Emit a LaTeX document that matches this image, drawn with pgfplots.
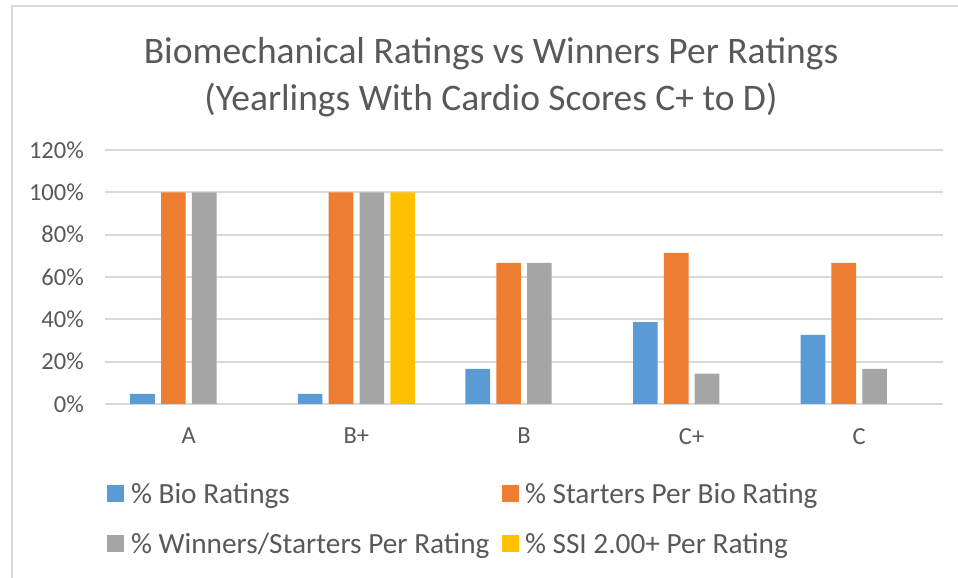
\documentclass[border=0pt]{standalone}
\usepackage{pgfplots}
\pgfplotsset{compat=1.18}
\usepackage{fontspec}
\setmainfont{Carlito}
\definecolor{cblue}{HTML}{5B9BD5}
\definecolor{corange}{HTML}{ED7D31}
\definecolor{cgray}{HTML}{A5A5A5}
\definecolor{cyellow}{HTML}{FFC000}
\definecolor{ctext}{HTML}{595959}
\definecolor{cgrid}{HTML}{D9D9D9}
\begin{document}
\begin{tikzpicture}
\useasboundingbox (0,0) rectangle (958bp,578bp);
\fill[white] (0,0) rectangle (958bp,578bp);
\draw[cgrid, line width=2bp] (11.5bp,0) -- (11.5bp,572bp) -- (958bp,572bp);
\node[anchor=base, font=\fontsize{37.5bp}{48bp}\selectfont, text=ctext, inner sep=0pt] at (491bp,514bp) {Biomechanical Ratings vs Winners Per Ratings};
\node[anchor=base, font=\fontsize{37.5bp}{48bp}\selectfont, text=ctext, inner sep=0pt] at (491bp,467bp) {(Yearlings With Cardio Scores C+ to D)};
\begin{axis}[
  at={(105bp,174bp)}, anchor=south west,
  scale only axis, width=838bp, height=254bp,
  xmin=-0.5, xmax=4.5, ymin=0, ymax=120,
  axis line style={draw=none},
  ymajorgrids, grid style={cgrid, line width=1.8bp},
  major tick length=0pt,
  xtick={0,1,2,3,4}, xticklabels={A,B+,B,C+,C},
  ytick={0,20,40,60,80,100,120},
  yticklabels={0\%,20\%,40\%,60\%,80\%,100\%,120\%},
  tick label style={font=\fontsize{24.5bp}{28bp}\selectfont, text=ctext, inner sep=0pt},
  yticklabel style={anchor=east, xshift=-21bp},
  xticklabel style={anchor=north, yshift=-24bp},
  legend columns=2,
  legend style={at={(axis description cs:0.0024,-0.311)}, anchor=north west,
    draw=none, fill=none, inner sep=0pt, outer sep=0pt, column sep=0pt, row sep=28bp,
    font=\fontsize{29.3bp}{34bp}\selectfont, text=ctext,
    nodes={inner sep=0pt, outer sep=0pt}, cells={anchor=west}},
  legend image code/.code={\fill[#1] (0bp,-8.5bp) rectangle (17bp,8.5bp);},
]
\addplot[ybar, bar width=0.147, bar shift=-0.276, fill=cblue, draw=none]
  coordinates {(0,4.8) (1,4.8) (2,16.6) (3,38.7) (4,32.6)};
\addlegendentry{\hspace*{7bp}\makebox[371bp][l]{\% Bio Ratings}}
\addplot[ybar, bar width=0.147, bar shift=-0.092, fill=corange, draw=none]
  coordinates {(0,100) (1,100) (2,66.7) (3,71.4) (4,66.7)};
\addlegendentry{\hspace*{6bp}\% Starters Per Bio Rating}
\addplot[ybar, bar width=0.147, bar shift=0.092, fill=cgray, draw=none]
  coordinates {(0,100) (1,100) (2,66.7) (3,14.3) (4,16.6)};
\addlegendentry{\hspace*{7bp}\makebox[371bp][l]{\% Winners/Starters Per Rating}}
\addplot[ybar, bar width=0.147, bar shift=0.276, fill=cyellow, draw=none]
  coordinates {(0,0) (1,100) (2,0) (3,0) (4,0)};
\addlegendentry{\hspace*{6bp}\% SSI 2.00+ Per Rating}
\end{axis}
\end{tikzpicture}
\end{document}
